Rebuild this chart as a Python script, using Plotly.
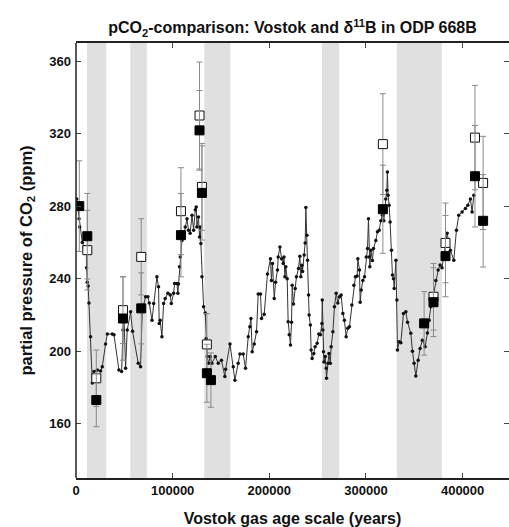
import plotly.graph_objects as go

# Vostok record (age in years, CO2 in ppm)
vostok_age = [800, 2000, 3100, 3800, 6500, 8300, 10600, 10900, 11600, 12600, 13400, 15100, 16900, 18600,
              22000, 25400, 27200, 30600, 32400, 37500, 39300, 44400, 47200, 48600, 49600, 51300, 53000,
              56500, 58500, 64400, 66800, 68600, 72000, 74400, 75800, 78600, 80300, 83700, 85400, 86100,
              87100, 88900, 90600, 92300, 95100, 97500, 98600, 101000, 102000, 104400, 105400, 106000,
              107100, 107900, 109600, 111300, 113000, 114800, 116400, 118100, 120000, 121700, 123400,
              124400, 125100, 126700, 127800, 128500, 129200, 130300, 132000, 133700, 134700, 135800,
              137100, 138900, 140600, 144100, 147200, 150500, 154000, 154800, 159300, 162700, 164400,
              167800, 169600, 173000, 175400, 178200, 179900, 181000, 182300, 184400, 186800, 188500,
              190900, 192000, 194700, 198100, 201200, 202200, 203300, 205100, 206500, 208500, 209200,
              211000, 212700, 214400, 215200, 216100, 217100, 218500, 219500, 220600, 221900, 223000,
              223700, 225000, 226800, 228100, 230200, 231600, 232600, 233700, 234400, 236100, 237100,
              237800, 238900, 239600, 240600, 241200, 242500, 243300, 244300, 246000, 247400, 249500,
              251200, 252900, 254400, 254800, 255400, 256000, 256500, 257900, 258900, 259200, 260700,
              261700, 263100, 264000, 265800, 267400, 269200, 270900, 272600, 274300, 276100, 277700,
              279500, 281200, 282900, 285400, 287500, 289100, 290900, 291600, 293300, 294000, 295100,
              296800, 298500, 300300, 301600, 302600, 303300, 304000, 305100, 306700, 307800, 310200,
              311900, 313700, 315400, 317100, 318500, 319500, 320500, 321600, 322200, 322900, 324000,
              325000, 326400, 327400, 328500, 329200, 331000, 332000, 332600, 334400, 336100, 338800,
              341300, 343000, 346400, 348100, 349800, 351600, 354000, 356000, 358400, 361200, 363600,
              365400, 367100, 369500, 372300, 374700, 376700, 378700, 382200, 384000, 387400, 390900,
              393600, 396000, 399500, 402900, 405400, 408100, 409800, 411600]
vostok_co2 = [284, 279, 273, 268.5, 260, 257.5, 255.7, 246, 238, 236, 226.5, 208, 182.4, 188.7,
              189.6, 189, 191.4, 204, 209.4, 209.4, 209, 189.6, 188.7, 211.6, 219, 190.5, 211.6,
              221.7, 211, 193.3, 191.4, 222.6, 230, 230, 226.5, 217, 226.3, 241, 235.5, 215.3,
              217, 208, 226.3, 229, 232, 231, 226.3, 232, 237.3, 237.3, 232, 237,
              246.5, 252, 261, 263, 268.5, 273, 266.7, 265, 275, 266.7, 278,
              279.5, 268.5, 274, 263, 268.5, 259.4, 241, 224.5, 221, 207, 197,
              193.3, 197, 193.3, 197, 193.3, 195, 186, 190, 204, 191.4, 184,
              193.3, 198.4, 198.4, 190.5, 208, 213.5, 218, 199.7, 204, 210.7, 231.5,
              231.5, 218, 220.4, 242.5, 251, 239, 248.4, 229, 238, 244.7, 252,
              257.5, 251, 248.4, 252, 241, 246.5, 240, 216.2, 209, 203.4, 216,
              236.4, 226, 234.6, 241, 245.6, 252.4, 241, 247.4, 244, 253, 259.7,
              279.2, 264, 250.2, 231, 219.9, 214.4, 200.6, 196, 198.7, 202.4, 204.3,
              209.4, 209, 215.3, 228.2, 211.6, 199.7, 194, 197, 190.5, 185, 193.3,
              198.7, 193.3, 202.4, 210.7, 224.5, 232, 226.5, 230, 231, 220.8, 217,
              208, 212.6, 213.4, 225.4, 236.4, 241, 241.4, 251, 244.7, 227, 233.7,
              239, 241, 252, 256.6, 273, 252, 246.5, 255.7, 250, 256.6, 261,
              265.8, 266.7, 272, 275, 272, 279.5, 284, 288.8, 298.8, 286, 280.5,
              271.3, 255.7, 242, 240, 234.6, 250.2, 228.2, 200.6, 205.2, 204.6, 220.8,
              221.7, 216, 209.8, 200, 193.3, 186.3, 195, 201.5, 206, 202.4, 210,
              217, 224.5, 230, 239, 244.7, 247.5, 246, 258, 265, 255.7, 250.2,
              266.7, 275, 276.8, 278.7, 280.5, 284, 276.8, 286]

# delta11B-derived pCO2 (open squares)
open_age = [11700, 21000, 48600, 67500, 108600, 127800, 130300, 135400, 317500, 369900, 382300, 412800, 421200]
open_co2 = [255.7, 185, 222.6, 252, 277.2, 330, 290.6, 203.7, 314.2, 230, 259.7, 317.8, 292.8]
open_err = [22, 15.6, 18.4, 21, 24, 29.5, 24, 17, 27.8, 18.4, 22, 28.8, 25.7]

# delta11B-derived pCO2 (filled squares)
fill_age = [3400, 11700, 21000, 48600, 67500, 108600, 127800, 130300, 135400, 139600, 317500, 360200,
            369900, 382300, 412800, 421200]
fill_co2 = [280, 263.4, 173, 218, 223.6, 264, 321.8, 287.3, 187.8, 184, 278.3, 215.3,
            227, 252.4, 296.5, 271.9]
fill_err = [25, 23.6, 14.7, 23, 19.6, 23, 22, 26, 16, 15, 24.3, 17.5, 19, 22.4, 28, 25.5]

# shaded intervals
band_start = [11400, 56150, 132700, 254400, 332000]
band_end = [31300, 73400, 159600, 272300, 378500]

x_ticks = [0, 100000, 200000, 300000, 400000]
y_ticks = [160, 200, 240, 280, 320, 360]

FONT = "Liberation Sans, Arial, Helvetica, sans-serif"

fig = go.Figure()

for s, e in zip(band_start, band_end):
    fig.add_shape(type="rect", xref="x", yref="paper", x0=s, x1=e, y0=0, y1=1,
                  fillcolor="#e0e0e0", line=dict(width=0), layer="below")

# left frame line (the right edge of the frame is outside the picture)
fig.add_shape(type="line", xref="paper", yref="paper", x0=0, x1=0, y0=0, y1=1,
              line=dict(color="#222", width=1.5), layer="above")

fig.add_trace(go.Scatter(x=vostok_age, y=vostok_co2, mode="lines+markers",
                         line=dict(color="#333333", width=1),
                         marker=dict(color="#111111", size=3.5, symbol="circle"),
                         showlegend=False, hoverinfo="skip"))

fig.add_trace(go.Scatter(x=open_age, y=open_co2, mode="markers",
                         marker=dict(symbol="square", size=9, color="white",
                                     line=dict(color="#111111", width=1)),
                         error_y=dict(type="data", array=open_err, visible=True,
                                      color="#8a8a8a", thickness=1, width=3),
                         showlegend=False))

fig.add_trace(go.Scatter(x=fill_age, y=fill_co2, mode="markers",
                         marker=dict(symbol="square", size=9, color="#000000",
                                     line=dict(color="#000000", width=1)),
                         error_y=dict(type="data", array=fill_err, visible=True,
                                      color="#8a8a8a", thickness=1, width=3),
                         showlegend=False))

fig.update_layout(
    width=509, height=527,
    margin=dict(l=76, r=0, t=43, b=49),
    paper_bgcolor="white", plot_bgcolor="white",
    font=dict(family=FONT, color="#111111"),
    title=dict(text="pCO<sub>2</sub>-comparison: Vostok and δ<sup>11</sup>B in ODP 668B",
               x=0.5, xref="paper", xanchor="center", y=0.958, yref="container",
               font=dict(size=16, weight="bold", family=FONT)),
    xaxis=dict(range=[0, 448000], tickvals=x_ticks, ticktext=[str(v) for v in x_ticks],
               ticks="inside", ticklen=5, tickwidth=1, tickcolor="#444",
               showline=True, linecolor="#222", linewidth=1.5, mirror="ticks",
               showgrid=False, zeroline=False,
               tickfont=dict(size=13, weight="bold"),
               title=dict(text="Vostok gas age scale (years)", standoff=15,
                          font=dict(size=16, weight="bold"))),
    yaxis=dict(range=[130, 370], tickvals=y_ticks,
               ticks="inside", ticklen=5, tickwidth=1, tickcolor="#444",
               showline=False, mirror="ticks",
               showgrid=False, zeroline=False, ticklabelstandoff=4,
               tickfont=dict(size=13, weight="bold"),
               title=dict(text="partial pressure of CO<sub>2</sub> (ppm)", standoff=12,
                          font=dict(size=16.5, weight="bold"))),
)

fig.write_html("out.html")
